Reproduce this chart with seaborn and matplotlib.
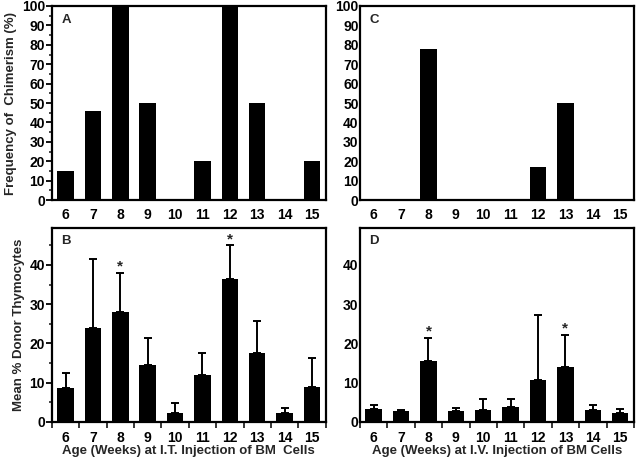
import matplotlib
matplotlib.use('Agg')
import matplotlib.pyplot as plt
import seaborn as sns
import pandas as pd
from matplotlib.ticker import MultipleLocator

sns.set_style('ticks')
plt.rcParams['font.family'] = ['Liberation Sans', 'DejaVu Sans']
plt.rcParams['font.weight'] = 'bold'

ages = ['6', '7', '8', '9', '10', '11', '12', '13', '14', '15']

# frequency of chimerism (%)
freq_it = [15, 46, 100, 50, 0, 20, 100, 50, 0, 20]
freq_iv = [0, 0, 78, 0, 0, 0, 17, 50, 0, 0]

# mean % donor thymocytes and top of error bar
mean_it = [8.5, 23.8, 28.0, 14.6, 2.3, 12.0, 36.4, 17.5, 2.3, 9.0]
top_it = [12.5, 41.5, 38.0, 21.4, 4.7, 17.6, 45.0, 25.8, 3.4, 16.2]
mean_iv = [3.2, 2.8, 15.5, 2.7, 3.1, 3.9, 10.7, 14.0, 3.1, 2.2]
top_iv = [4.3, 3.0, 21.5, 3.4, 5.9, 5.9, 27.2, 22.1, 4.3, 3.3]

star_it = ['8', '12']
star_iv = ['8', '13']

fig = plt.figure(figsize=(6.4, 4.61), dpi=100)
axA = fig.add_axes([0.081, 0.566, 0.428, 0.421])
axC = fig.add_axes([0.5625, 0.566, 0.428, 0.421])
axB = fig.add_axes([0.081, 0.085, 0.428, 0.421])
axD = fig.add_axes([0.5625, 0.085, 0.428, 0.421])


def style_axis(ax, letter, yticks):
    for s in ax.spines.values():
        s.set_linewidth(1.6)
        s.set_color('black')
        s.set_visible(True)
    ax.set_xlim(-0.5, 9.5)
    ax.tick_params(axis='both', labelsize=10, width=1.3, colors='black')
    if yticks:
        ax.tick_params(axis='y', which='major', length=4, pad=1)
        ax.tick_params(axis='y', which='minor', length=2.5, width=1.2)
    else:
        ax.tick_params(axis='y', which='both', length=0, pad=1)
    for lab in ax.get_xticklabels() + ax.get_yticklabels():
        lab.set_fontweight('bold')
    ax.text(0.035, 0.96, letter, transform=ax.transAxes, fontsize=9.5,
            fontweight='bold', va='top', ha='left')


def freq_panel(ax, vals, letter, ylabel, yticks):
    df = pd.DataFrame({'age': ages, 'val': vals})
    sns.barplot(data=df, x='age', y='val', color='black', width=0.6,
                saturation=1, linewidth=0, ax=ax)
    ax.set_ylim(0, 100)
    ax.yaxis.set_major_locator(MultipleLocator(10))
    ax.yaxis.set_minor_locator(MultipleLocator(5))
    ax.tick_params(axis='x', length=0, pad=6)
    ax.set_xlabel('')
    ax.set_ylabel(ylabel, fontsize=9.5, fontweight='bold', labelpad=3)
    style_axis(ax, letter, yticks)


def mean_panel(ax, vals, tops, stars, letter, xlabel, ylabel, yticks):
    df = pd.DataFrame({'age': ages, 'val': vals})
    sns.barplot(data=df, x='age', y='val', color='black', width=0.6,
                saturation=1, linewidth=0, ax=ax)
    xs = [p.get_x() + p.get_width() / 2 for p in ax.patches]
    errs = [t - v for t, v in zip(tops, vals)]
    ax.errorbar(xs, vals, yerr=[[0] * len(vals), errs], fmt='none',
                ecolor='black', elinewidth=1.4, capsize=3, capthick=1.4)
    for a in stars:
        i = ages.index(a)
        ax.text(xs[i], tops[i] + 1.6, '*', ha='center', va='center',
                fontsize=11, fontweight='bold')
    ax.set_ylim(0, 49.5)
    ax.yaxis.set_major_locator(MultipleLocator(10))
    if yticks:
        ax.yaxis.set_minor_locator(MultipleLocator(5))
    # ticks sit between the categories, labels under the bars
    ax.set_xticks([i for i in range(len(ages))])
    ax.set_xticklabels(ages)
    ax.set_xticks([i - 0.5 for i in range(len(ages) + 1)], minor=True)
    ax.tick_params(axis='x', which='major', length=0, pad=6.5)
    ax.tick_params(axis='x', which='minor', length=4, width=1.3,
                   direction='out')
    ax.set_xlabel(xlabel, fontsize=9.5, fontweight='bold', labelpad=0)
    ax.set_ylabel(ylabel, fontsize=9.5, fontweight='bold', labelpad=3)
    style_axis(ax, letter, yticks)


freq_panel(axA, freq_it, 'A', 'Frequency of  Chimerism (%)', True)
freq_panel(axC, freq_iv, 'C', '', False)
mean_panel(axB, mean_it, top_it, star_it, 'B',
           'Age (Weeks) at I.T. Injection of BM  Cells', 'Mean % Donor Thymocytes', True)
mean_panel(axD, mean_iv, top_iv, star_iv, 'D',
           'Age (Weeks) at I.V. Injection of BM Cells', '', False)

fig.savefig('out.png', dpi=100)
